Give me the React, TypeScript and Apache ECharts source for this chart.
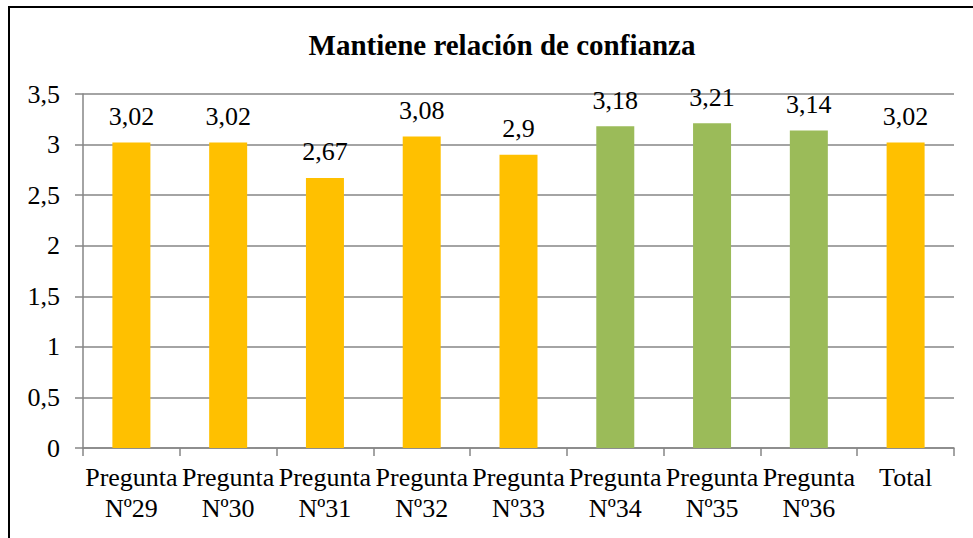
import React, { useEffect, useRef } from "react";
import * as echarts from "echarts";

const title = "Mantiene relación de confianza";
const categories = [
  "Pregunta\nNº29",
  "Pregunta\nNº30",
  "Pregunta\nNº31",
  "Pregunta\nNº32",
  "Pregunta\nNº33",
  "Pregunta\nNº34",
  "Pregunta\nNº35",
  "Pregunta\nNº36",
  "Total",
];
const values = [3.02, 3.02, 2.67, 3.08, 2.9, 3.18, 3.21, 3.14, 3.02];
const highlighted = [false, false, false, false, false, true, true, true, false];

const ORANGE = "#FFC000";
const GREEN = "#9BBB59";
const FONT = "Liberation Serif";

export default function App() {
  const ref = useRef<HTMLDivElement>(null);
  useEffect(() => {
    if (!ref.current) return;
    const chart = echarts.init(ref.current, null, { renderer: "svg" });
    chart.setOption({
      animation: false,
      backgroundColor: "#ffffff",
      textStyle: { fontFamily: FONT },
      title: {
        text: title,
        left: 497,
        textAlign: "center",
        top: 25,
        textStyle: { fontFamily: FONT, fontSize: 29, fontWeight: "bold", color: "#000" },
      },
      graphic: [
        { type: "line", shape: { x1: 9, y1: 7, x2: 9, y2: 540 }, style: { stroke: "#000", lineWidth: 2 } },
        { type: "line", shape: { x1: 8, y1: 7, x2: 975, y2: 7 }, style: { stroke: "#000", lineWidth: 2 } },
      ],
      grid: { left: 83, right: 19, top: 94, bottom: 90, containLabel: false },
      xAxis: {
        type: "category",
        data: categories,
        axisLine: { show: true, lineStyle: { color: "#868686", width: 1.5 } },
        axisTick: { show: true, length: 8, lineStyle: { color: "#868686", width: 1.5 } },
        axisLabel: {
          interval: 0,
          fontFamily: FONT,
          fontSize: 26,
          lineHeight: 31,
          color: "#000",
          margin: 14,
        },
      },
      yAxis: {
        type: "value",
        min: 0,
        max: 3.5,
        interval: 0.5,
        axisLine: { show: true, lineStyle: { color: "#868686", width: 1.5 } },
        axisTick: { show: true, length: 8, lineStyle: { color: "#868686", width: 1.5 } },
        splitLine: { show: true, lineStyle: { color: "#868686", width: 1.5 } },
        axisLabel: {
          fontFamily: FONT,
          fontSize: 26,
          color: "#000",
          margin: 23,
          formatter: (v: number) => String(v).replace(".", ","),
        },
      },
      series: [
        {
          type: "bar",
          barWidth: 38,
          data: values.map((v, i) => ({
            value: v,
            itemStyle: { color: highlighted[i] ? GREEN : ORANGE },
          })),
          label: {
            show: true,
            position: "top",
            distance: 13,
            fontFamily: FONT,
            fontSize: 26,
            color: "#000",
            formatter: (p: any) => String(p.value).replace(".", ","),
          },
        },
      ],
    });
    return () => chart.dispose();
  }, []);
  return (
    <div
      ref={ref}
      style={{ position: "absolute", left: 0, top: 0, width: 973, height: 538 }}
    />
  );
}
